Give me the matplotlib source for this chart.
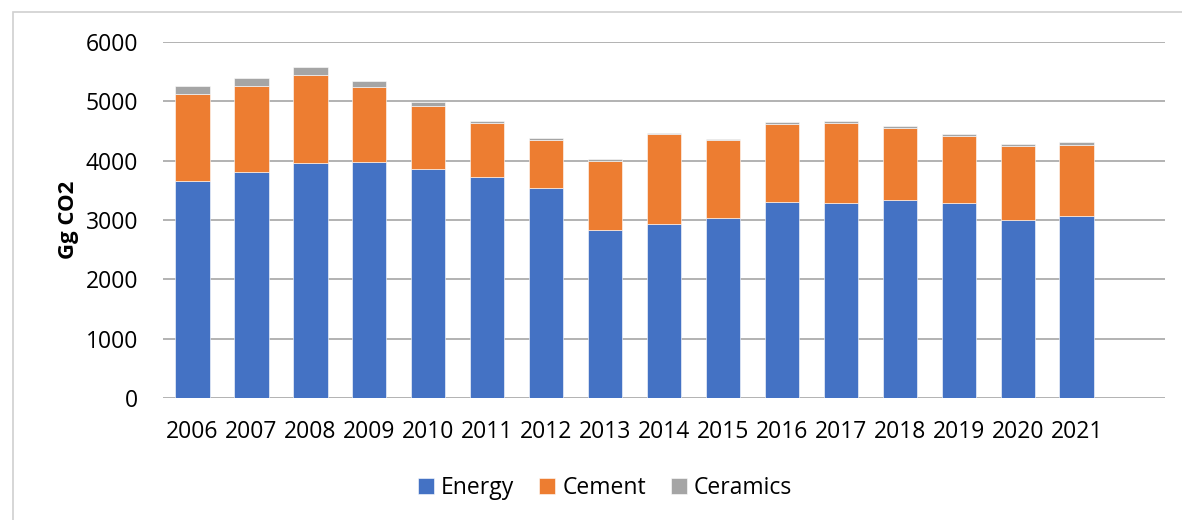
import numpy as np
import matplotlib.pyplot as plt
from matplotlib.patches import Rectangle

years = ["2006", "2007", "2008", "2009", "2010", "2011", "2012", "2013",
         "2014", "2015", "2016", "2017", "2018", "2019", "2020", "2021"]
energy = [3652, 3804, 3967, 3984, 3860, 3720, 3545, 2831,
          2938, 3028, 3303, 3286, 3343, 3286, 2999, 3073]
cement = [1469, 1458, 1475, 1266, 1064, 911, 805, 1170,
          1513, 1322, 1317, 1345, 1210, 1126, 1255, 1198]
ceramics = [141, 135, 140, 85, 73, 45, 39, 23,
            17, 23, 28, 40, 33, 45, 29, 45]

plt.rcParams['font.family'] = ['Open Sans', 'DejaVu Sans']

fig = plt.figure(figsize=(11.82, 5.2), dpi=100)
ax = fig.add_axes([0.138, 0.2346, 0.8476, 0.6846])

x = np.arange(len(years))
w = 0.58
energy = np.array(energy)
cement = np.array(cement)
ceramics = np.array(ceramics)
ax.bar(x, energy, w, color='#4472C4', label='Energy', zorder=3, edgecolor='white', linewidth=0.4)
ax.bar(x, cement, w, bottom=energy, color='#ED7D31', label='Cement', zorder=3, edgecolor='white', linewidth=0.4)
ax.bar(x, ceramics, w, bottom=energy + cement, color='#A5A5A5', label='Ceramics', zorder=3, edgecolor='white', linewidth=0.4)

ax.set_xlim(-0.5, len(years) + 0.5)
ax.set_ylim(0, 6000)
ax.set_yticks(range(0, 6001, 1000))
ax.set_xticks(x)
ax.set_xticklabels(years)
ax.tick_params(axis='both', length=0, labelsize=16.5, colors='black')
ax.tick_params(axis='x', pad=16)
ax.tick_params(axis='y', pad=18)
ax.grid(axis='y', color='#a6a6a6', linewidth=1.2, zorder=0)
for s in ax.spines.values():
    s.set_visible(False)

ax.set_ylabel('Gg CO2', fontsize=16, fontweight='bold', labelpad=5)

fig.legend(loc='center', bbox_to_anchor=(0.512, 0.062), ncol=3, frameon=False,
           fontsize=16.5, handlelength=0.7, handleheight=0.7, handletextpad=0.3,
           columnspacing=1.1)

fig.patches.append(Rectangle((13 / 1182, -0.1), 1.2, 1 - 12 / 520 + 0.1,
                             transform=fig.transFigure, fill=False,
                             edgecolor='#d0d0d0', linewidth=1.2))

fig.savefig('out.png', dpi=100)
